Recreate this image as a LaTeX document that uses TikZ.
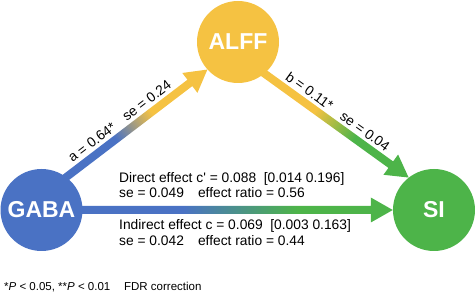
\documentclass[tikz,border=0pt]{standalone}
\usepackage{fontspec}
\setmainfont{Liberation Sans}
\usetikzlibrary{calc}
\definecolor{gblue}{HTML}{4A72C4}
\definecolor{ayellow}{HTML}{F5C242}
\definecolor{sgreen}{HTML}{4DB449}
\pgfdeclarehorizontalshading{shGA}{100bp}{color(0bp)=(gblue); color(44bp)=(gblue); color(56bp)=(ayellow); color(100bp)=(ayellow)}
\pgfdeclarehorizontalshading{shGS}{100bp}{color(0bp)=(gblue); color(42bp)=(gblue); color(60bp)=(sgreen); color(100bp)=(sgreen)}
\pgfdeclarehorizontalshading{shAS}{100bp}{color(0bp)=(ayellow); color(44bp)=(ayellow); color(57bp)=(sgreen); color(100bp)=(sgreen)}
\newcommand\fatarrow[3]{%
  \path let \p1=(#1), \p2=(#2), \n1={veclen(\x2-\x1,\y2-\y1)}, \n2={atan2(\y2-\y1,\x2-\x1)} in \pgfextra{\xdef\ArrLen{\n1}\xdef\ArrAng{\n2}};
  \begin{scope}[transform canvas={shift={(#1)},rotate=\ArrAng}]
    \shade[shading=#3] (-8pt,-4pt) -- ({\ArrLen-22pt},-4pt) -- ({\ArrLen-22pt},-12.5pt) -- (\ArrLen,0pt) -- ({\ArrLen-22pt},12.5pt) -- ({\ArrLen-22pt},4pt) -- (-8pt,4pt) -- cycle;
  \end{scope}}
\tikzset{
  var/.style={circle, minimum size=82pt, inner sep=0pt, text=white, font=\fontsize{23}{23}\selectfont\bfseries},
  lbl/.style={font=\fontsize{13.8}{16}\selectfont, inner sep=0pt, anchor=base west},
  coef/.style={font=\fontsize{13.8}{16}\selectfont, sloped, above=7pt, inner sep=0pt},
}
\begin{document}
\begin{tikzpicture}[x=1pt,y=1pt]
\useasboundingbox (0,0) rectangle (475,295);
% node positions
\path (41.5,85) node[var] (gaba) {}
      (238,253) node[var] (alff) {}
      (434,85) node[var] (si) {};
% arrows
\fatarrow{gaba.53}{alff.222}{shGA}
\fatarrow{alff.310}{si.128}{shAS}
\fatarrow{gaba.east}{si.west}{shGS}
% circles on top
\node[var, fill=gblue] (gabaC) at (gaba) {GABA};
\node[var, fill=ayellow] (alffC) at (alff) {ALFF};
\node[var, fill=sgreen] (siC) at (si) {SI};
% coefficient labels
\path (gaba.53) -- (alff.222) node[coef, pos=0.43] (la) {a = 0.64*\hspace{0.9em}se = 0.24};
\path (alff.310) -- (si.128) node[coef, pos=0.46] (lb) {b = 0.11*\hspace{0.9em}se = 0.04};
% effect texts
\node[lbl] (d1) at (119,112) {Direct effect c\textquotesingle{} = 0.088\hspace{0.55em}[0.014 0.196]};
\node[lbl] (d2) at (119,97) {se = 0.049\hspace{14pt}effect ratio = 0.56};
\node[lbl] (i1) at (119,65) {Indirect effect c = 0.069\hspace{0.55em}[0.003 0.163]};
\node[lbl] (i2) at (119,49) {se = 0.042\hspace{14pt}effect ratio = 0.44};
% footnote
\node[lbl, font=\fontsize{11.5}{14}\selectfont] (fn) at (4,4) {*\textit{P} < 0.05, **\textit{P} < 0.01\hspace{1.2em}FDR correction};
\end{tikzpicture}
\end{document}
